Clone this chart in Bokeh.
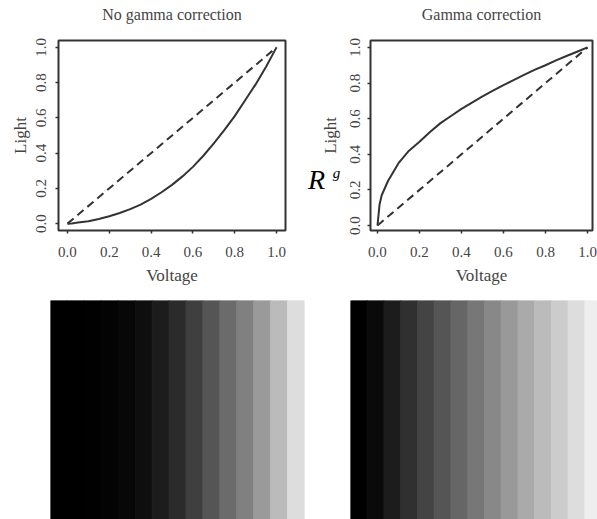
from bokeh.plotting import figure
from bokeh.layouts import column, row
from bokeh.models import FixedTicker, NumeralTickFormatter, Label, Range1d, Title
from bokeh.embed import file_html
from bokeh.resources import INLINE

# ---------------- data ----------------
tick_values = [0.0, 0.2, 0.4, 0.6, 0.8, 1.0]
voltage = [0.0, 0.01, 0.02, 0.05, 0.1, 0.15, 0.2, 0.25, 0.3, 0.35, 0.4, 0.45,
           0.5, 0.55, 0.6, 0.65, 0.7, 0.75, 0.8, 0.85, 0.9, 0.95, 1.0]
light_uncorrected = [0.0, 0.0, 0.001, 0.006, 0.014, 0.026, 0.042, 0.06, 0.082,
                     0.108, 0.14, 0.178, 0.22, 0.268, 0.322, 0.385, 0.455, 0.53,
                     0.61, 0.70, 0.79, 0.89, 1.0]
light_corrected = [0.0, 0.12, 0.17, 0.25, 0.35, 0.42, 0.47, 0.525, 0.575, 0.615,
                   0.655, 0.69, 0.725, 0.757, 0.788, 0.818, 0.847, 0.875, 0.90,
                   0.927, 0.952, 0.976, 1.0]
identity_voltage = [0.0, 1.0]
identity_light = [0.0, 1.0]
grey_uncorrected = [0, 0, 1, 3, 7, 14, 28, 43, 63, 85, 107, 128, 154, 187, 221]
grey_corrected = [0, 10, 28, 48, 68, 85, 102, 119, 136, 153, 170, 187, 204, 221, 238]
titles = ["No gamma correction", "Gamma correction"]
axis_labels = ["Voltage", "Light"]

FONT = "Liberation Serif"
TXT = "#444444"
LINE = "#333333"

LEFT_YR = (-0.039, 1.039)
RIGHT_YR = (-0.028, 1.039)


def curve_plot(title, xr, yr, light, width, height, bl, br, bt, bb,
               ylab_standoff, with_ylabel):
    p = figure(width=width, height=height, output_backend="svg", title=None,
               toolbar_location=None, x_range=Range1d(*xr), y_range=Range1d(*yr),
               min_border_left=bl, min_border_right=br,
               min_border_top=bt, min_border_bottom=bb,
               background_fill_color="white", border_fill_color="white")
    # spacer (inner) + the title itself (outer) in the top panel
    p.add_layout(Title(text=" ", text_font_size="1px", standoff=14), "above")
    p.add_layout(Title(text=title, align="center", text_font=FONT,
                       text_font_size="16px", text_font_style="normal",
                       text_color=TXT, standoff=2), "above")
    p.grid.visible = False
    p.outline_line_color = LINE
    p.outline_line_width = 2
    for ax in (p.xaxis[0], p.yaxis[0]):
        ax.ticker = FixedTicker(ticks=tick_values)
        ax.formatter = NumeralTickFormatter(format="0.0")
        ax.axis_line_color = None
        ax.major_tick_line_color = LINE
        ax.major_tick_line_width = 1.5
        ax.major_tick_out = 3
        ax.major_tick_in = 0
        ax.minor_tick_line_color = None
        ax.major_label_text_font = FONT
        ax.major_label_text_font_size = "15px"
        ax.major_label_text_color = TXT
        ax.axis_label_text_font = FONT
        ax.axis_label_text_font_size = "17px"
        ax.axis_label_text_font_style = "normal"
        ax.axis_label_text_color = TXT
    p.xaxis.axis_label = axis_labels[0]
    if with_ylabel:
        p.yaxis.axis_label = axis_labels[1]
    p.xaxis.major_label_standoff = 13
    p.xaxis.axis_label_standoff = 6
    p.yaxis.major_label_standoff = ylab_standoff
    p.yaxis.axis_label_standoff = 4
    p.yaxis.major_label_orientation = "vertical"
    p.line(identity_voltage, identity_light, line_color=LINE, line_width=2,
           line_dash="8 5")
    p.line(voltage, light, line_color=LINE, line_width=2)
    return p


# left curve panel: page x 0..298, frame 58..285 / 40..234
pa = curve_plot(titles[0], (-0.043, 1.043), LEFT_YR, light_uncorrected,
                298, 290, 58, 13, 40, 56, 9, True)

# middle strip (page x 298..346) with the same vertical layout as the right
# panel: carries the right panel's y label and the "R^g" note
pm = figure(width=48, height=290, output_backend="svg", toolbar_location=None,
            title=None, x_range=Range1d(0, 48), y_range=Range1d(*RIGHT_YR),
            min_border_left=0, min_border_right=0, min_border_top=40,
            min_border_bottom=60, background_fill_color="white",
            border_fill_color="white")
pm.axis.visible = False
pm.grid.visible = False
pm.outline_line_color = None
pm.add_layout(Label(x=32, y=0.506, text=axis_labels[1], text_font=FONT,
                    text_font_size="17px", text_color=TXT, angle=1.5707963,
                    text_align="center", text_baseline="middle"))
pm.add_layout(Label(x=18, y=0.258, text="R", text_font=FONT,
                    text_font_size="28px", text_font_style="italic",
                    text_color="black", text_align="center",
                    text_baseline="middle"))
pm.add_layout(Label(x=38, y=0.294, text="g", text_font=FONT,
                    text_font_size="15px", text_font_style="italic",
                    text_color="black", text_align="center",
                    text_baseline="middle"))

# right curve panel: page x 346..597, frame 370..592 / 40..230
pb = curve_plot(titles[1], (-0.0333, 1.0238), RIGHT_YR, light_corrected,
                251, 290, 24, 5, 40, 60, 7, False)


def strip_plot(levels, xmax, width, height, bl, br, bt):
    p = figure(width=width, height=height, output_backend="svg", title=None,
               toolbar_location=None, x_range=Range1d(0, xmax),
               y_range=Range1d(0, 1),
               min_border_left=bl, min_border_right=br,
               min_border_top=bt, min_border_bottom=0,
               background_fill_color="white", border_fill_color="white")
    p.axis.visible = False
    p.grid.visible = False
    p.outline_line_color = None
    idx = list(range(len(levels)))
    right = [i + 1 for i in idx]
    colors = ["#%02x%02x%02x" % (g, g, g) for g in levels]
    p.quad(left=idx, right=right, bottom=0, top=1, fill_color=colors,
           line_color=colors, line_width=1)
    return p


pc = strip_plot(grey_uncorrected, 15, 327, 229, 50, 23, 10)
pd_ = strip_plot(grey_corrected, 14.75, 270, 229, 23, 0, 10)

layout = column(row(pa, pm, pb), row(pc, pd_))
open("out.html", "w").write(file_html(layout, INLINE))
